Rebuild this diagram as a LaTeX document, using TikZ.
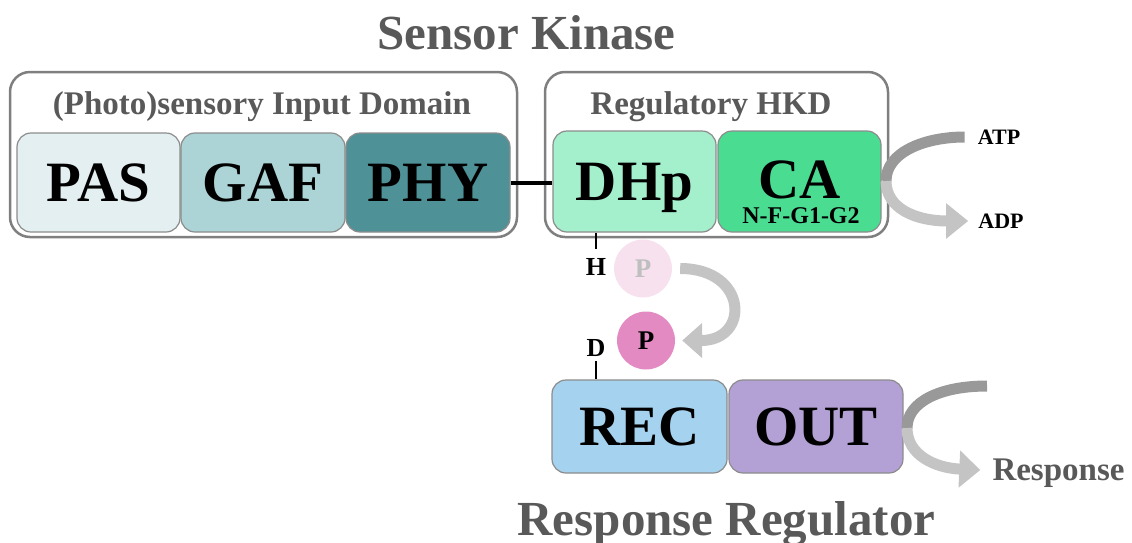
\documentclass[tikz,border=0pt]{standalone}
\usepackage{fontspec}
\setmainfont{Liberation Serif}
\usepackage{tikz}
\usetikzlibrary{arrows.meta}
\usepackage{xcolor}
\definecolor{TitleGrey}{HTML}{595959}
\definecolor{BoxEdge}{HTML}{7F7F7F}
\definecolor{DomainEdge}{HTML}{8C8C8C}
\definecolor{PASFill}{HTML}{E3EFF1}
\definecolor{GAFFill}{HTML}{ACD3D6}
\definecolor{PHYFill}{HTML}{4E9197}
\definecolor{DHpFill}{HTML}{A4EFCC}
\definecolor{CAFill}{HTML}{4ADD92}
\definecolor{RECFill}{HTML}{A5D2EF}
\definecolor{OUTFill}{HTML}{B3A1D5}
\definecolor{PBound}{HTML}{E48AC3}
\definecolor{PFaded}{HTML}{F7E1EE}
\definecolor{ArcDark}{HTML}{999999}
\definecolor{ArcLight}{HTML}{C4C4C4}

\begin{document}
\begin{tikzpicture}[x=1pt, y=-1pt,
    container/.style={draw=BoxEdge, line width=2.5pt, rounded corners=20pt},
    domainbox/.style={draw=DomainEdge, line width=1.2pt, rounded corners=14pt,
        text height=37.6pt, text depth=0pt,
        font=\fontsize{57}{57}\selectfont\bfseries},
    caplabel/.style={inner sep=0pt, text depth=0pt},
    heading/.style={caplabel, text height=32.3pt, text=TitleGrey, font=\fontsize{49}{49}\selectfont\bfseries},
    subheading/.style={caplabel, text height=21.8pt, text=TitleGrey, font=\fontsize{33}{33}\selectfont\bfseries},
    smalltext/.style={caplabel, text height=14.5pt, font=\fontsize{22}{22}\selectfont\bfseries},
    sitetext/.style={caplabel, text height=17.2pt, font=\fontsize{26}{26}\selectfont\bfseries},
    phospho/.style={circle, minimum size=58pt, inner sep=0pt, text height=17.8pt, text depth=0pt,
        font=\fontsize{27}{27}\selectfont\bfseries},
    sitebar/.style={line width=2pt},
    arcband/.style={line width=11pt}]
    \useasboundingbox (0,0) rectangle (1132,542);

    \node[heading] (sk) at (526.5,33.5) {Sensor Kinase};
    \node[heading] (rr) at (726.5,519) {Response Regulator};

    % sensor kinase
    \node[container, minimum width=507pt, minimum height=165pt] (inbox) at (263.5,154.5) {};
    \node[container, minimum width=343pt, minimum height=165pt] (hkdbox) at (716.5,154.5) {};
    \node[subheading] (intitle) at (262,104) {(Photo)sensory Input Domain};
    \node[subheading] (hkdtitle) at (711,104) {Regulatory HKD};

    \node[domainbox, fill=PASFill, minimum width=163pt, minimum height=99pt] (pas) at (98.5,182.5) {PAS};
    \node[domainbox, fill=GAFFill, minimum width=164pt, minimum height=99pt] (gaf) at (263,182.5) {GAF};
    \node[domainbox, fill=PHYFill, minimum width=164pt, minimum height=99pt] (phy) at (428,182.5) {PHY};
    \node[domainbox, fill=DHpFill, minimum width=163pt, minimum height=101pt] (dhp) at (634.5,181.5) {DHp};
    \node[domainbox, fill=CAFill, minimum width=163pt, minimum height=101pt] (ca) at (799.5,181.5) {};
    \node[caplabel, text height=37.6pt, font=\fontsize{57}{57}\selectfont\bfseries] (calbl) at (799.5,179.5) {CA};
    \node[caplabel, text height=15.8pt, font=\fontsize{24}{24}\selectfont\bfseries] (motifs) at (801,215.5) {N-F-G1-G2};

    \draw[line width=4pt] (phy.east) -- (phy.east -| dhp.west);

    % phosphotransfer
    \node[sitetext] (hsite) at (596,266.5) {H};
    \node[sitetext] (dsite) at (596,347.5) {D};
    \draw[sitebar] (hsite |- dhp.south) -- ++(0,16);

    \node[phospho, fill=PFaded, text=black!25] (pfaded) at (643,268.5) {P};
    \node[phospho, fill=PBound] (pbound) at (646,340.5) {P};
    \draw[line width=11pt, ArcLight, -{Triangle[length=20pt,width=34pt]}]
        ([xshift=8pt]pfaded.east) .. controls +(68,0) and +(68,0) .. ([xshift=7pt]pbound.east);

    % response regulator
    \node[domainbox, fill=RECFill, minimum width=175pt, minimum height=93pt] (rec) at (639.5,426.5) {REC};
    \node[domainbox, fill=OUTFill, minimum width=174pt, minimum height=93pt] (out) at (816,426.5) {OUT};
    \draw[sitebar] (dsite |- rec.north) -- ++(0,-18);

    % ATP -> ADP
    \node[smalltext] (atp) at (999,137) {ATP};
    \node[smalltext] (adp) at (1001,221) {ADP};
    \coordinate (atpturn) at (886,181);
    \draw[arcband, ArcDark] ([xshift=-13pt]atp.west) .. controls (925,137) and (886,152) .. (atpturn);
    \draw[arcband, ArcLight, -{Triangle[length=22pt,width=34pt]}]
        (atpturn) .. controls (886,208) and (915,221) .. ([xshift=-10pt]adp.west);

    % output
    \node[subheading] (resp) at (1058.5,470) {Response};
    \coordinate (outin) at (987,386);
    \coordinate (outturn) at (907,428);
    \draw[arcband, ArcDark] (outin) .. controls (940,386) and (907,402) .. (outturn);
    \draw[arcband, ArcLight, -{Triangle[length=21pt,width=36pt]}]
        (outturn) .. controls (907,455) and (935,468) .. ([xshift=-12pt]resp.west);
\end{tikzpicture}
\end{document}
